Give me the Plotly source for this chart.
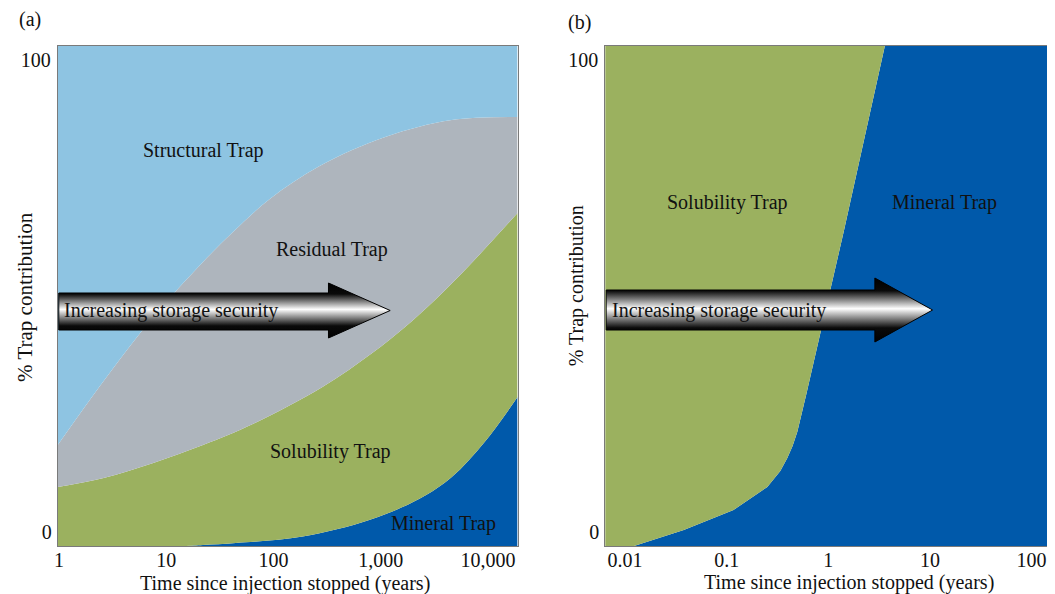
import plotly.graph_objects as go

# The page body has an 8px margin, so the figure is sized to fill the rest of
# the 1055x594 window; all positions below are given in window pixels.
OFF = 8
W, H = 1055 - OFF, 594 - OFF
FONT = "Liberation Serif"
TXT = "#111111"

# ---------------- data ----------------
# Panel (a): cumulative % boundaries of the stacked trapping mechanisms
a_mineral_t = [0.975, 14.4, 22.0, 44.6, 187, 780, 2270, 4592, 9290, 18836]
a_mineral_top = [0, 0, 0.2, 0.6, 1.9, 5.2, 9.4, 13.8, 20.8, 29.8]

a_solub_t = [0.975, 2.61, 7.57, 22.0, 64.1, 286, 832, 1683, 3199, 6607, 18836]
a_solub_top = [11.8, 13.6, 16.6, 20.2, 24.4, 31.8, 38.6, 43.8, 49.2, 56.0, 66.6]

a_resid_t = [0.975, 2.61, 7.57, 22.0, 41.9, 92.3, 269, 1099, 4592, 18836]
a_resid_top = [20.2, 33.0, 45.8, 56.8, 62.8, 69.4, 76.0, 81.8, 85.2, 85.8]

a_struct_t = [0.975, 18836]
a_struct_top = [100, 100]

a_tickvals = [1, 10, 100, 1000, 10000]
a_ticktext = ["1", "10", "100", "1,000", "10,000"]

# Panel (b): mineral trap boundary, solubility trap above it
b_t = [0.00637, 0.01225, 0.0378, 0.1167, 0.251, 0.337, 0.395, 0.445, 0.495,
       0.553, 0.605, 1.43, 3.60, 166]
b_mineral_top = [0, 0, 3.2, 7.2, 11.8, 15.0, 17.6, 20.0, 22.8, 26.6, 30.2,
                 63.2, 100, 100]
b_total_t = [0.00637, 166]
b_total_top = [100, 100]

b_tickvals = [0.01, 0.1, 1, 10, 100]
b_ticktext = ["0.01", "0.1", "1", "10", "100"]

# ---------------- styling / layout constants ----------------
C_STRUCT = "#8EC4E2"
C_RESID = "#AEB5BD"
C_SOLUB = "#9BB15F"
C_MINERAL = "#0059AA"

A_PX = (54, 516)       # window px of panel (a) plot box, left/right
B_PX = (604, 1055)     # panel (b)
Y_PX = (46, 546)       # top / bottom
A_RANGE = [-0.011, 4.275]
B_RANGE = [-2.196, 2.221]


def fx(px):
    return (px - OFF) / W


def fy(py):
    return 1 - (py - OFF) / H


def px_to_data(px, py, xpx, xrange):
    frac = (px - xpx[0]) / (xpx[1] - xpx[0])
    logx = xrange[0] + frac * (xrange[1] - xrange[0])
    y = (Y_PX[1] - py) / (Y_PX[1] - Y_PX[0]) * 100
    return 10 ** logx, y


fig = go.Figure()


def area(x, y, color, fill, xa, ya, shape="spline", smoothing=1.0):
    fig.add_trace(go.Scatter(
        x=x, y=y, mode="lines",
        line=dict(width=0, color=color, shape=shape,
                  smoothing=smoothing if shape == "spline" else None),
        fill=fill, fillcolor=color, hoverinfo="skip", showlegend=False,
        xaxis=xa, yaxis=ya))


# panel (a)
area(a_mineral_t, a_mineral_top, C_MINERAL, "tozeroy", "x", "y")
area(a_solub_t, a_solub_top, C_SOLUB, "tonexty", "x", "y")
area(a_resid_t, a_resid_top, C_RESID, "tonexty", "x", "y")
area(a_struct_t, a_struct_top, C_STRUCT, "tonexty", "x", "y", shape="linear")

# panel (b)
area(b_t, b_mineral_top, C_MINERAL, "tozeroy", "x2", "y2", shape="linear")
area(b_total_t, b_total_top, C_SOLUB, "tonexty", "x2", "y2", shape="linear")

# empty traces so the overlaid axes carrying the "0" labels are drawn
for ya, xa in (("y3", "x"), ("y4", "x2")):
    fig.add_trace(go.Scatter(x=[None], y=[None], mode="lines", xaxis=xa, yaxis=ya,
                             hoverinfo="skip", showlegend=False))


# gradient arrows (decoration), outline given in window pixels
def arrow(xpx, xrange, x0, xb, xtip, s_top, s_bot, h_top, h_bot, xa, ya):
    ymid = (h_top + h_bot) / 2
    pts = [(x0, s_top), (xb, s_top), (xb, h_top), (xtip, ymid),
           (xb, h_bot), (xb, s_bot), (x0, s_bot), (x0, s_top)]
    xs, ys = [], []
    for p in pts:
        dx, dy = px_to_data(p[0], p[1], xpx, xrange)
        xs.append(dx)
        ys.append(dy)
    fig.add_trace(go.Scatter(
        x=xs, y=ys, mode="lines", fill="toself",
        line=dict(color="#000000", width=1),
        fillgradient=dict(type="vertical",
                          colorscale=[[0, "#000000"], [0.22, "#0a0a0a"],
                                      [0.52, "#ffffff"], [0.8, "#0a0a0a"],
                                      [1, "#000000"]]),
        hoverinfo="skip", showlegend=False, xaxis=xa, yaxis=ya))


arrow(A_PX, A_RANGE, A_PX[0] + 1, 326, 388, 293, 330, 283, 338, "x", "y")
arrow(B_PX, B_RANGE, B_PX[0] + 1, 875, 933, 290, 330, 278, 342, "x2", "y2")

tickfont = dict(family=FONT, size=20, color=TXT)
axis_line = dict(showline=True, mirror=True, linecolor="#7a7a7a", linewidth=1,
                 showgrid=False, zeroline=False, ticks="", tickfont=tickfont)
overlay = dict(side="left", range=[0, 100], tickvals=[0], ticktext=["0"],
               ticklabelposition="outside top", ticklabelstandoff=5,
               showline=False, showgrid=False, zeroline=False, ticks="",
               tickfont=tickfont)

ydom = [fy(Y_PX[1]), fy(Y_PX[0])]

fig.update_layout(
    width=W, height=H,
    margin=dict(l=0, r=0, t=0, b=0),
    paper_bgcolor="white", plot_bgcolor="rgba(0,0,0,0)",
    showlegend=False,
    xaxis=dict(domain=[fx(A_PX[0]), fx(A_PX[1])], type="log", range=A_RANGE,
               anchor="y", tickvals=a_tickvals, ticktext=a_ticktext,
               ticklabelstandoff=-4, **axis_line),
    yaxis=dict(domain=ydom, range=[0, 100], anchor="x", tickvals=[100],
               ticktext=["100"], ticklabelposition="outside bottom",
               ticklabelstandoff=2, **axis_line),
    yaxis3=dict(overlaying="y", anchor="x", **overlay),
    xaxis2=dict(domain=[fx(B_PX[0]), 1.0], type="log", range=B_RANGE,
                anchor="y2", tickvals=b_tickvals, ticktext=b_ticktext,
                ticklabelstandoff=-4, **axis_line),
    yaxis2=dict(domain=ydom, range=[0, 100], anchor="x2", tickvals=[100],
                ticktext=["100"], ticklabelposition="outside bottom",
                ticklabelstandoff=2, **axis_line),
    yaxis4=dict(overlaying="y2", anchor="x2", **overlay),
)


def label(text, px, py, angle=0, xanchor="center", size=20):
    fig.add_annotation(text=text, x=fx(px), y=fy(py), xref="paper", yref="paper",
                       showarrow=False, textangle=angle, xanchor=xanchor,
                       yanchor="middle", font=dict(family=FONT, size=size, color=TXT))


label("(a)", 26, 20)
label("(b)", 578, 22)
label("Structural Trap", 200, 151)
label("Residual Trap", 330, 249)
label("Solubility Trap", 328, 451)
label("Mineral Trap", 442, 523)
label("Solubility Trap", 727, 203)
label("Mineral Trap", 945, 203)
label("Increasing storage security", 58, 310, xanchor="left")
label("Increasing storage security", 609, 310, xanchor="left")
label("Time since injection stopped (years)", 282, 583)
label("Time since injection stopped (years)", 849, 582)
label("% Trap contribution", 21, 297, angle=-90, size=21)
label("% Trap contribution", 575, 286, angle=-90, size=20)

fig.write_html("out.html")
